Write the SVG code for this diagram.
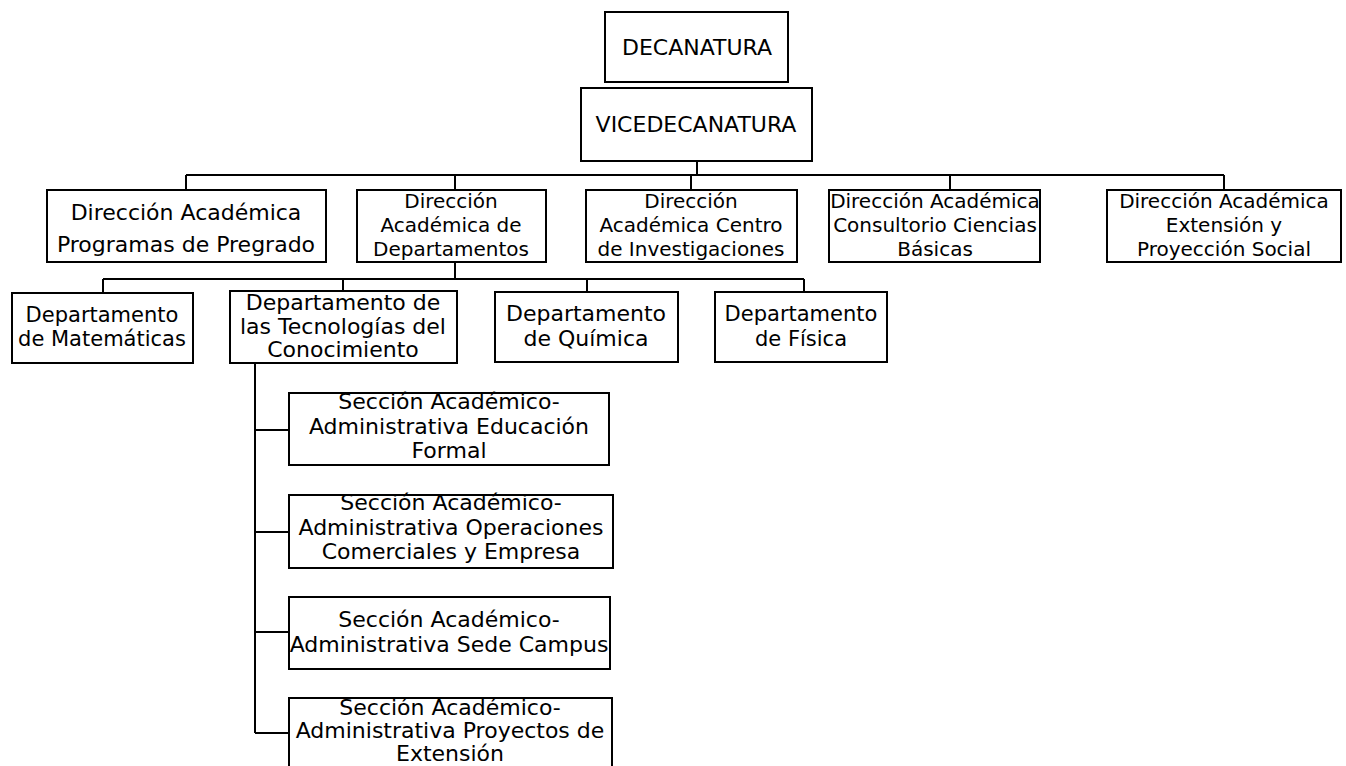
<svg xmlns="http://www.w3.org/2000/svg" width="1346" height="766" viewBox="0 0 1346 766">
<style>
.box{fill:#fff;stroke:#000;stroke-width:2}
.t{font-family:"DejaVu Sans",sans-serif;font-size:20px;fill:#000;text-anchor:middle}
.l{font-size:22px}
.m{font-size:21px}
.c{fill:none;stroke:#000;stroke-width:2}
</style>
<rect width="1346" height="766" fill="#fff"/>
<g id="connectors">
<path class="c" d="M697 161V175M186 175H1224M186 175V190M455 175V190M691 175V190M950 175V190M1224 175V190"/>
<path class="c" d="M455 262V279M103 279H804M103 279V292M343 279V291M587 279V292M804 279V292"/>
<path class="c" d="M255 363V733M255 430H289M255 532H289M255 632H289M255 733H289"/>
</g>
<g id="decanatura"><rect class="box" x="605" y="12" width="183" height="70"/><text class="t l" x="697" y="55">DECANATURA</text></g>
<g id="vicedecanatura"><rect class="box" x="581" y="88" width="231" height="73"/><text class="t l" x="696" y="132">VICEDECANATURA</text></g>
<g id="dir-pregrado"><rect class="box" x="47" y="190" width="279" height="72"/><text class="t l" x="186" y="220">Dirección Académica</text><text class="t l" x="186" y="252">Programas de Pregrado</text></g>
<g id="dir-departamentos"><rect class="box" x="357" y="190" width="189" height="72"/><text class="t" x="451" y="208">Dirección</text><text class="t" x="451" y="232">Académica de</text><text class="t" x="451" y="256">Departamentos</text></g>
<g id="dir-centro"><rect class="box" x="586" y="190" width="211" height="72"/><text class="t" x="691" y="208">Dirección</text><text class="t" x="691" y="232">Académica Centro</text><text class="t" x="691" y="256">de Investigaciones</text></g>
<g id="dir-consultorio"><rect class="box" x="829" y="190" width="211" height="72"/><text class="t" x="935" y="208">Dirección Académica</text><text class="t" x="935" y="232">Consultorio Ciencias</text><text class="t" x="935" y="256">Básicas</text></g>
<g id="dir-extension"><rect class="box" x="1107" y="190" width="234" height="72"/><text class="t" x="1224" y="208">Dirección Académica</text><text class="t" x="1224" y="232">Extensión y</text><text class="t" x="1224" y="256">Proyección Social</text></g>
<g id="dep-matematicas"><rect class="box" x="12" y="293" width="181" height="70"/><text class="t m" x="102" y="322">Departamento</text><text class="t m" x="102" y="346">de Matemáticas</text></g>
<g id="dep-tecnologias"><rect class="box" x="230" y="291" width="227" height="72"/><text class="t l" x="343" y="310">Departamento de</text><text class="t l" x="343" y="334">las Tecnologías del</text><text class="t l" x="343" y="357">Conocimiento</text></g>
<g id="dep-quimica"><rect class="box" x="495" y="292" width="183" height="70"/><text class="t l" x="586" y="321">Departamento</text><text class="t l" x="586" y="346">de Química</text></g>
<g id="dep-fisica"><rect class="box" x="715" y="292" width="172" height="70"/><text class="t m" x="801" y="321">Departamento</text><text class="t m" x="801" y="346">de Física</text></g>
<g id="sec-educacion"><rect class="box" x="289" y="393" width="320" height="72"/><text class="t l" x="449" y="409">Sección Académico-</text><text class="t l" x="449" y="434">Administrativa Educación</text><text class="t l" x="449" y="458">Formal</text></g>
<g id="sec-operaciones"><rect class="box" x="289" y="495" width="324" height="73"/><text class="t l" x="451" y="510">Sección Académico-</text><text class="t l" x="451" y="535">Administrativa Operaciones</text><text class="t l" x="451" y="559">Comerciales y Empresa</text></g>
<g id="sec-campus"><rect class="box" x="289" y="597" width="321" height="72"/><text class="t l" x="449" y="627">Sección Académico-</text><text class="t l" x="449" y="652">Administrativa Sede Campus</text></g>
<g id="sec-proyectos"><rect class="box" x="289" y="698" width="323" height="72"/><text class="t l" x="450" y="715">Sección Académico-</text><text class="t l" x="450" y="738">Administrativa Proyectos de</text><text class="t l" x="450" y="761">Extensión</text></g>
</svg>
